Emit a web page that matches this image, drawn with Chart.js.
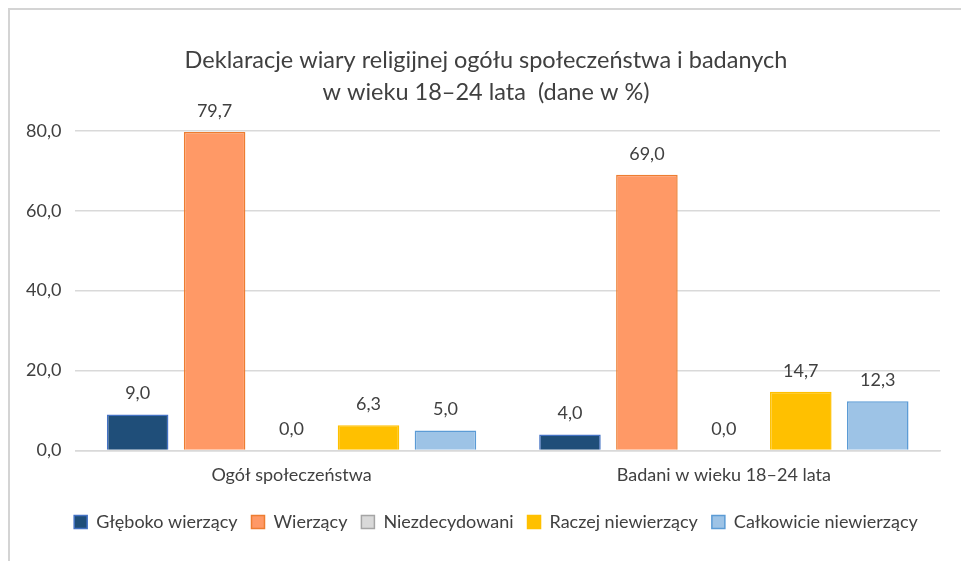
<!DOCTYPE html>
<html>
<head>
<meta charset="utf-8">
<script src="https://cdn.jsdelivr.net/npm/chart.js@4"></script>
<style>
  body { margin: 0; background: #fff; }
  #wrap { position: relative; width: 961px; height: 561px; }
  #frame { position: absolute; left: 8px; top: 8px; right: -5px; bottom: -5px;
           border-top: 2px solid #d4d4d4; border-left: 2px solid #d4d4d4; }
  canvas { position: absolute; left: 0; top: 0; }
</style>
</head>
<body>
<div id="wrap">
  <div id="frame"></div>
  <canvas id="chart" width="961" height="561"></canvas>
</div>
<script>
const categories = ['Ogół społeczeństwa', 'Badani w wieku 18–24 lata'];
const seriesNames = ['Głęboko wierzący', 'Wierzący', 'Niezdecydowani', 'Raczej niewierzący', 'Całkowicie niewierzący'];
const gleboko = [9.0, 4.0];
const wierzacy = [79.7, 69.0];
const niezdecydowani = [0.0, 0.0];
const raczejNie = [6.3, 14.7];
const calkowicieNie = [5.0, 12.3];

const fills = ['#1f4e79', '#ff9966', '#d9d9d9', '#ffc000', '#9dc3e6'];
const borders = ['#4472c4', '#ed7d31', '#a5a5a5', '#ffc000', '#5b9bd5'];
const allValues = [gleboko, wierzacy, niezdecydowani, raczejNie, calkowicieNie];

const fmt = v => v.toFixed(1).replace('.', ',');

// etykiety nad słupkami
const valueLabels = {
  id: 'valueLabels',
  afterDatasetsDraw(chart) {
    const c = chart.ctx;
    c.save();
    c.font = '18px Lato';
    c.fillStyle = '#404040';
    c.textAlign = 'center';
    c.textBaseline = 'middle';
    chart.data.datasets.forEach((ds, i) => {
      chart.getDatasetMeta(i).data.forEach((bar, j) => {
        c.fillText(fmt(ds.data[j]), bar.x, bar.y - 21);
      });
    });
    c.restore();
  }
};

// tytuł i legenda w oryginale są trochę przesunięte w prawo
const nudge = {
  id: 'nudge',
  afterLayout(chart) {
    chart.titleBlock.left += 10; chart.titleBlock.right += 10;
    chart.legend.left += 20; chart.legend.right += 20;
  }
};

Chart.defaults.font.family = 'Lato';
Chart.defaults.color = '#404040';

new Chart(document.getElementById('chart'), {
  type: 'bar',
  data: {
    labels: categories,
    datasets: seriesNames.map((name, i) => ({
      label: name,
      data: allValues[i],
      backgroundColor: fills[i],
      borderColor: borders[i],
      borderWidth: 1.5,
      categoryPercentage: 0.89,
      barPercentage: 0.8
    }))
  },
  options: {
    responsive: false,
    animation: false,
    layout: { padding: { left: 12, right: 21, top: 44, bottom: 20 } },
    plugins: {
      title: {
        display: true,
        text: ['Deklaracje wiary religijnej ogółu społeczeństwa i badanych', 'w wieku 18–24 lata  (dane w %)'],
        font: { size: 23.5, weight: 'normal', lineHeight: 1.36 },
        color: '#404040',
        padding: { top: 0, bottom: 23 }
      },
      legend: {
        position: 'bottom',
        labels: {
          boxWidth: 13, boxHeight: 13,
          font: { size: 18 },
          color: '#404040',
          padding: 14
        }
      },
      tooltip: { enabled: false }
    },
    scales: {
      x: {
        grid: { display: false },
        border: { color: '#d9d9d9', width: 1.5 },
        afterFit: s => { s.height += 7; },
        ticks: { font: { size: 18 }, color: '#404040', padding: 6 }
      },
      y: {
        min: 0, max: 80,
        ticks: { stepSize: 20, font: { size: 18 }, color: '#404040', padding: 14, callback: v => fmt(v) },
        grid: { color: '#d9d9d9', lineWidth: 1.5, drawTicks: false },
        border: { display: false }
      }
    }
  },
  plugins: [valueLabels, nudge]
});
</script>
</body>
</html>
